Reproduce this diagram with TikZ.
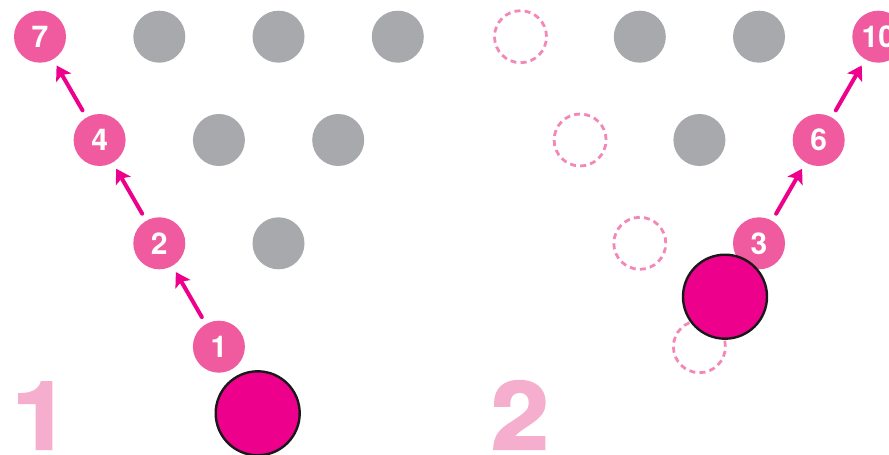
\documentclass[tikz,border=0pt]{standalone}
\usepackage{fontspec}
\newfontfamily\heros{TeX Gyre Heros}
\newfontfamily\herosheavy{TeX Gyre Heros}[BoldFeatures={FakeBold=2.5,FakeStretch=1.1}]
\usetikzlibrary{arrows.meta}
\definecolor{pinpink}{HTML}{F05BA0}
\definecolor{magenta}{HTML}{EC008C}
\definecolor{pingray}{HTML}{A7A9AC}
\definecolor{dashpink}{HTML}{F388B8}
\definecolor{bigpink}{HTML}{F5AECE}
\tikzset{
  pin/.style={circle,fill=pinpink,minimum size=52pt,inner sep=0pt,text=white,font=\heros\bfseries\fontsize{30}{30}\selectfont},
  graypin/.style={circle,fill=pingray,minimum size=52pt,inner sep=0pt},
  gone/.style={circle,draw=dashpink,line width=2.8pt,dash pattern=on 6pt off 4.2pt,minimum size=52pt,inner sep=0pt},
  ball/.style={circle,fill=magenta,draw=black!90,line width=2.4pt,minimum size=84pt,inner sep=0pt},
  hit/.style={draw=magenta,line width=4pt,line cap=round,-{Stealth[length=14pt,width=17pt,inset=3pt]},shorten <=8pt,shorten >=7pt},
  bignum/.style={text=bigpink,font=\herosheavy\bfseries\fontsize{94}{94}\selectfont,inner sep=0pt}
}
\begin{document}
\begin{tikzpicture}[x=1pt,y=-1pt]
\clip (0,0) rectangle (889,455);
\fill[white] (0,0) rectangle (889,455);
% left panel
\node[pin] (L7) at (40,36.7) {7};
\node[graypin] (L8) at (159.3,36.7) {};
\node[graypin] (L9) at (278.5,36.7) {};
\node[graypin] (L10) at (397.8,36.7) {};
\node[pin] (L4) at (99.6,140) {4};
\node[graypin] (L5) at (218.9,140) {};
\node[graypin] (L6) at (338.2,140) {};
\node[pin] (L2) at (159.3,243.3) {2};
\node[graypin] (L3) at (278.5,243.3) {};
\node[pin] (L1) at (218.9,346.7) {1};
\node[ball] (LB) at (257.7,413.3) {};
\draw[hit] (L1) -- (L2);
\draw[hit] (L2) -- (L4);
\draw[hit] (L4) -- (L7);
\node[bignum,anchor=base west] (N1) at (12,449) {1};
% right panel
\node[gone] (R7) at (520.5,36.7) {};
\node[graypin] (R8) at (639.8,36.7) {};
\node[graypin] (R9) at (759,36.7) {};
\node[pin] (R10) at (878.3,36.7) {10};
\node[gone] (R4) at (580.1,140) {};
\node[graypin] (R5) at (699.4,140) {};
\node[pin] (R6) at (818.7,140) {6};
\node[gone] (R2) at (639.8,243.3) {};
\node[pin] (R3) at (759,243.3) {3};
\node[gone] (R1) at (699.4,346.7) {};
\node[ball] (RB) at (725,296.7) {};
\draw[hit] (R3) -- (R6);
\draw[hit] (R6) -- (R10);
\node[bignum,anchor=base west] (N2) at (491,449) {2};
\end{tikzpicture}
\end{document}
